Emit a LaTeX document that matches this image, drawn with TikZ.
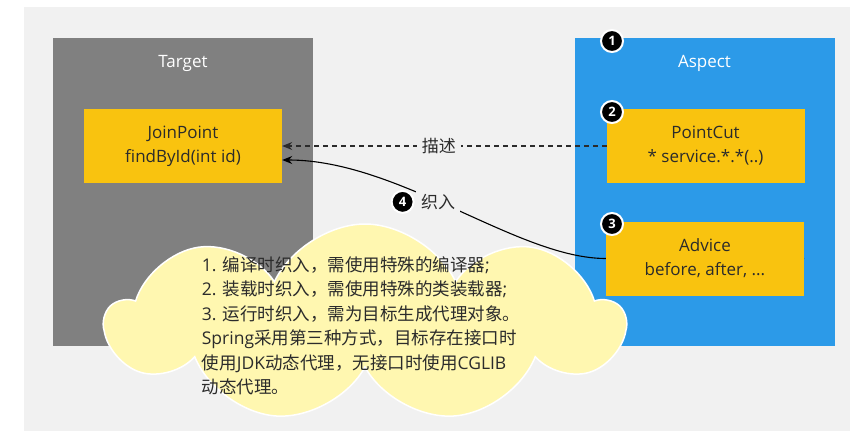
\documentclass[tikz,border=0pt]{standalone}
\usepackage{fontspec}
\setmainfont{Open Sans}
\newfontfamily\cjk{Noto Sans CJK SC}
\usetikzlibrary{arrows.meta,positioning,shapes.symbols}
\definecolor{Panel}{HTML}{F1F1F1}
\definecolor{Slate}{HTML}{808080}
\definecolor{Sky}{HTML}{2C9AE8}
\definecolor{Gold}{HTML}{F9C30F}
\definecolor{Cream}{HTML}{FFF7B0}
\definecolor{Ink}{HTML}{2B2B2B}
\pgfdeclarelayer{back}
\pgfdeclarelayer{mid}
\pgfsetlayers{back,mid,main}
\tikzset{group/.style={minimum width=260pt,minimum height=308pt,inner sep=0pt},title/.style={text=white,font=\fontsize{17}{20}\selectfont},item/.style={fill=Gold,minimum width=198pt,minimum height=74pt,align=center,text=Ink,font=\fontsize{17}{24}\selectfont},num/.style={circle,fill=black,draw=white,line width=2pt,minimum size=22pt,inner sep=0pt,text=white,font=\bfseries\fontsize{13}{13}\selectfont},lbl/.style={fill=Panel,text=Ink,inner xsep=5pt,inner ysep=3pt,font=\cjk\fontsize{17}{17}\selectfont},desc/.style={-{Stealth[length=10pt,width=8pt]},line width=1.1pt,dash pattern=on 5pt off 4pt,draw=Ink},weave/.style={-{Stealth[length=10pt,width=8pt]},line width=1.1pt,draw=black}}

\begin{document}
\begin{tikzpicture}[x=1pt,y=-1pt]
  \useasboundingbox (0,0) rectangle (859,431);
  \begin{pgfonlayer}{back}
    \fill[Panel] (24,7) rectangle (850,431);
    \node[group,fill=Slate] (target) at (183,192) {};
    \node[group,fill=Sky] (aspect) at (704.5,192) {};
  \end{pgfonlayer}
  \node[title] (tlabel) at (183,63) {Target};
  \node[title] (alabel) at (704.5,63) {Aspect};
  \node[item] (join) at (183,146) {JoinPoint\\findById(int id)};
  \node[item] (pointcut) at (705.5,146) {PointCut\\* service.*.*(..)};
  \node[item] (advice) at (705,258.5) {Advice\\before, after, ...};
  % connectors sit under the yellow boxes
  \begin{pgfonlayer}{mid}
    \draw[desc] (pointcut.east) -- (join.east) node[pos=.70,lbl] (desclbl) {描述};
    \draw[weave] (advice.east) -- (advice.west) .. controls +(-88,0) and +(117,0) .. ([yshift=-14pt]join.east) node[pos=.55,lbl] (weavelbl) {织入};
    \node[num,left=1pt of weavelbl] (n4) {4};
  \end{pgfonlayer}
  \node[num] (n1) at (612,41) {1};
  \node[num] (n2) at (612,112) {2};
  \node[num] (n3) at (612,224) {3};
  \node[cloud,cloud puffs=9,cloud puff arc=130,cloud ignores aspect,fill=Cream,draw=white,line width=1.5pt,minimum width=517pt,minimum height=198pt] (bubble) at (365,323) {};
  \node[align=left,text=Ink,font=\fontsize{17.5}{24.5}\selectfont] (note) at (361,326) {1. {\cjk 编译时织入，需使用特殊的编译器};\\2. {\cjk 装载时织入，需使用特殊的类装载器};\\3. {\cjk 运行时织入，需为目标生成代理对象。}\\Spring{\cjk 采用第三种方式，目标存在接口时}\\{\cjk 使用}JDK{\cjk 动态代理，无接口时使用}CGLIB\\{\cjk 动态代理。}};
\end{tikzpicture}
\end{document}
